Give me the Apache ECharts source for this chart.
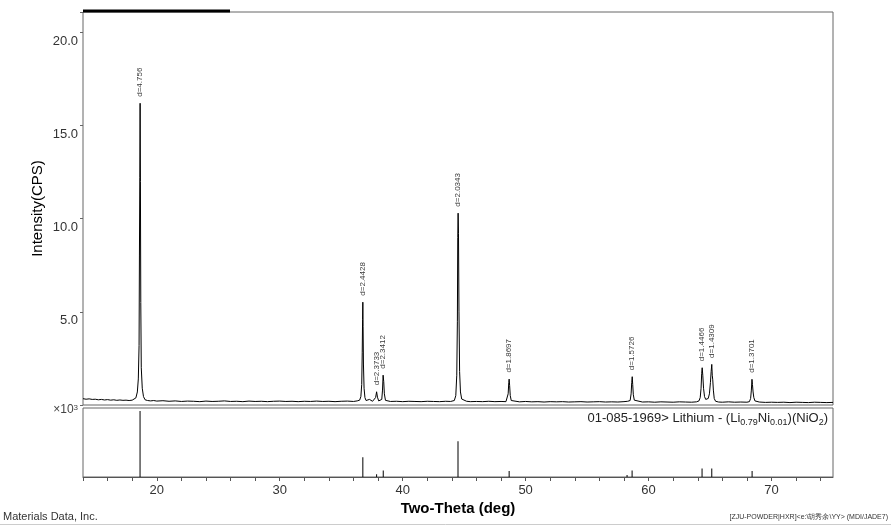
<!DOCTYPE html>
<html>
<head>
<meta charset="utf-8">
<script src="https://cdn.jsdelivr.net/npm/echarts@6/dist/echarts.min.js"></script>
<style>
html,body{margin:0;padding:0;background:#fff;}
#chart{width:891px;height:526px;}
</style>
</head>
<body>
<div id="chart"></div>
<script>
// Measured scan: [2θ (deg), intensity (×10³ CPS)]
var scanPoints = [
[14.00,0.34],[14.25,0.31],[14.5,0.33],[14.75,0.30],[15.0,0.31],[15.25,0.28],[15.5,0.30],[15.75,0.27],
[16.0,0.29],[16.25,0.26],[16.5,0.28],[16.75,0.25],[17.0,0.27],[17.25,0.25],[17.5,0.26],[17.75,0.24],
[18.0,0.26],[18.15,0.28],[18.3,0.38],[18.42,0.7],[18.5,1.4],[18.56,3.2],[18.59,8.0],[18.62,12.2],
[18.645,16.2],[18.67,12.0],[18.70,5.5],[18.74,2.0],[18.82,0.9],[18.92,0.45],[19.05,0.28],[19.25,0.24],
[19.5,0.22],[19.75,0.24],[20,0.21],[20.5,0.23],[21,0.2],[21.5,0.22],[22,0.19],[22.5,0.21],[23,0.2],
[23.5,0.18],[24,0.21],[24.5,0.19],[25,0.2],[25.5,0.22],[26,0.19],[26.5,0.2],[27,0.18],[27.5,0.21],
[28,0.19],[28.5,0.2],[29,0.18],[29.5,0.2],[30,0.21],[30.5,0.19],[31,0.2],[31.5,0.18],[32,0.2],
[32.5,0.19],[33,0.21],[33.5,0.19],[34,0.2],[34.5,0.18],[35,0.2],[35.5,0.21],[36,0.19],[36.3,0.22],
[36.5,0.26],[36.6,0.45],[36.67,1.1],[36.71,2.8],[36.74,4.6],[36.76,5.52],[36.78,4.2],[36.81,2.2],
[36.86,0.9],[36.93,0.4],[37.02,0.24],[37.15,0.2],[37.3,0.3],[37.4,0.22],[37.55,0.2],[37.7,0.22],
[37.8,0.4],[37.88,0.71],[37.95,0.42],[38.05,0.22],[38.2,0.2],[38.3,0.3],[38.36,0.8],[38.41,1.6],
[38.46,1.25],[38.51,0.6],[38.6,0.25],[38.75,0.2],[39,0.19],[39.5,0.2],[40,0.18],[40.5,0.2],[41,0.19],
[41.5,0.18],[42,0.2],[42.5,0.19],[43,0.18],[43.5,0.2],[43.9,0.19],[44.2,0.24],[44.32,0.5],[44.4,1.6],
[44.45,4.5],[44.48,9.0],[44.51,10.3],[44.54,9.2],[44.58,5.0],[44.63,1.8],[44.7,0.7],[44.8,0.32],
[44.95,0.22],[45.2,0.2],[45.5,0.18],[46,0.19],[46.5,0.18],[47,0.2],[47.5,0.18],[48,0.19],[48.4,0.18],
[48.52,0.26],[48.58,0.6],[48.63,1.2],[48.66,1.39],[48.7,1.05],[48.75,0.5],[48.83,0.24],[48.95,0.18],
[49.5,0.17],[50,0.19],[50.5,0.17],[51,0.18],[51.5,0.16],[52,0.18],[52.5,0.17],[53,0.18],[53.5,0.16],
[54,0.17],[54.5,0.18],[55,0.16],[55.5,0.17],[56,0.18],[56.5,0.16],[57,0.17],[57.5,0.16],[58,0.18],
[58.3,0.2],[58.5,0.24],[58.58,0.6],[58.63,1.2],[58.67,1.52],[58.71,1.1],[58.76,0.55],[58.84,0.26],
[58.95,0.18],[59.5,0.16],[60,0.17],[60.5,0.15],[61,0.17],[61.5,0.16],[62,0.15],[62.5,0.17],[63,0.16],
[63.5,0.15],[63.9,0.17],[64.1,0.22],[64.2,0.4],[64.27,0.9],[64.32,1.7],[64.36,2.0],[64.41,1.6],
[64.47,0.9],[64.55,0.45],[64.65,0.3],[64.75,0.28],[64.85,0.35],[64.95,0.6],[65.03,1.2],[65.09,1.8],
[65.14,2.18],[65.18,1.6],[65.22,1.35],[65.27,0.8],[65.34,0.35],[65.45,0.2],[65.7,0.16],[66,0.15],
[66.5,0.17],[67,0.15],[67.5,0.16],[68,0.15],[68.2,0.18],[68.3,0.35],[68.36,0.8],[68.41,1.38],
[68.45,1.1],[68.5,0.7],[68.56,0.4],[68.65,0.22],[68.8,0.15],[69,0.16],[69.5,0.14],[70,0.15],
[70.5,0.14],[71,0.15],[71.5,0.13],[72,0.15],[72.5,0.14],[73,0.13],[73.5,0.15],[74,0.14],[74.5,0.13],[75,0.14]
];

// Labelled peaks
var peakTheta = [18.645, 36.76, 37.88, 38.41, 44.51, 48.66, 58.67, 64.36, 65.14, 68.41];
var peakIntensity = [16.2, 5.52, 0.71, 1.6, 10.3, 1.39, 1.52, 2.0, 2.18, 1.38];
var peakLabels = ['d=4.756','d=2.4428','d=2.3733','d=2.3412','d=2.0343','d=1.8697','d=1.5726','d=1.4466','d=1.4309','d=1.3701'];

// Reference pattern 01-085-1969 (relative intensity, %)
var refTheta = [18.64, 36.76, 37.88, 38.42, 44.50, 48.66, 58.25, 58.66, 64.35, 65.14, 68.42];
var refIntensity = [100, 30, 4, 10, 54, 9, 3, 10, 13, 13, 9];

var yTicks = [5, 10, 15, 20];
var xLabelTicks = [20, 30, 40, 50, 60, 70];

var FONT = '"Liberation Sans", Arial, sans-serif';
var chart = echarts.init(document.getElementById('chart'), null, {renderer: 'canvas'});

var peakData = peakTheta.map(function (t, i) {
  return {value: [t, peakIntensity[i]], name: peakLabels[i]};
});
var refData = refTheta.map(function (t, i) { return [t, refIntensity[i]]; });

var option = {
  animation: false,
  backgroundColor: '#fff',
  grid: [
    {left: 83, right: 58, top: 12, height: 393, show: true, borderColor: '#666', borderWidth: 1, backgroundColor: 'transparent'},
    {left: 83, right: 58, top: 408, height: 69, show: true, borderColor: '#666', borderWidth: 1, backgroundColor: 'transparent'}
  ],
  xAxis: [
    {type: 'value', gridIndex: 0, min: 14, max: 75, interval: 2,
     axisLine: {show: false}, axisTick: {show: false}, axisLabel: {show: false}, splitLine: {show: false}},
    {type: 'value', gridIndex: 1, min: 14, max: 75, interval: 2,
     axisLine: {show: true, lineStyle: {color: '#555', width: 1}},
     axisTick: {show: true, length: 4, lineStyle: {color: '#555'}},
     axisLabel: {show: true, margin: 7, color: '#333', fontSize: 13, fontFamily: FONT,
       formatter: function (v) { return xLabelTicks.indexOf(v) >= 0 ? String(v) : ''; },
       showMaxLabel: false},
     splitLine: {show: false},
     name: 'Two-Theta (deg)', nameLocation: 'middle', nameGap: 24, nameMoveOverlap: false,
     nameTextStyle: {color: '#000', fontSize: 15, fontWeight: 'bold', fontFamily: FONT}}
  ],
  yAxis: [
    {type: 'value', gridIndex: 0, min: 0, max: 21.1, interval: 5,
     axisLine: {show: false},
     axisTick: {show: true, length: 3, lineStyle: {color: '#666'}},
     axisLabel: {show: true, margin: 5, color: '#333', fontSize: 13, fontFamily: FONT,
       verticalAlign: 'top', padding: [2, 0, 0, 0],
       formatter: function (v) { return yTicks.indexOf(v) >= 0 ? v.toFixed(1) : ''; }},
     splitLine: {show: false},
     name: 'Intensity(CPS)', nameLocation: 'middle', nameGap: 38, nameMoveOverlap: false,
     nameTextStyle: {color: '#000', fontSize: 15, fontFamily: FONT}},
    {type: 'value', gridIndex: 1, min: 0, max: 104.5,
     axisLine: {show: false}, axisTick: {show: false}, axisLabel: {show: false}, splitLine: {show: false}}
  ],
  series: [
    {type: 'line', xAxisIndex: 0, yAxisIndex: 0, data: scanPoints, showSymbol: false, symbol: 'none',
     lineStyle: {color: '#000', width: 1}, silent: true},
    {type: 'scatter', xAxisIndex: 0, yAxisIndex: 0, data: peakData, symbolSize: 1,
     itemStyle: {color: 'rgba(0,0,0,0)'},
     label: {show: true, position: 'top', distance: 6, rotate: 90, align: 'left', verticalAlign: 'middle',
       fontSize: 8, color: '#000', fontFamily: FONT,
       formatter: function (p) { return p.name; }}},
    {type: 'bar', xAxisIndex: 1, yAxisIndex: 1, data: refData, barWidth: 1,
     itemStyle: {color: '#000'}, silent: true}
  ],
  graphic: [
    {type: 'rect', shape: {x: 83, y: 9.5, width: 147, height: 3}, style: {fill: '#000'}},
    {type: 'text', right: 891 - 78, top: 404,
     style: {text: '×10{sup|3}', fill: '#444', font: '12px ' + FONT, align: 'right',
       rich: {sup: {fontSize: 8, verticalAlign: 'top', fill: '#444', fontFamily: FONT}}}},
    {type: 'text', right: 63, top: 409,
     style: {text: '01-085-1969> Lithium - (Li{sub|0.79}Ni{sub|0.01})(NiO{sub|2})',
       fill: '#222', font: '13px ' + FONT, lineHeight: 18,
       rich: {sub: {fontSize: 9, verticalAlign: 'bottom', lineHeight: 18, fill: '#222', fontFamily: FONT}}}},
    {type: 'text', left: 3, top: 511,
     style: {text: 'Materials Data, Inc.', fill: '#333', font: '11px ' + FONT}},
    {type: 'text', right: 3, top: 514,
     style: {text: '[ZJU-POWDER|HXR]<e:\\胡秀余\\YY> (MDI/JADE7)', fill: '#333', font: '7px ' + FONT}},
    {type: 'line', shape: {x1: 0, y1: 524.5, x2: 891, y2: 524.5}, style: {stroke: '#ccc', lineWidth: 1}}
  ]
};
chart.setOption(option);
</script>
</body>
</html>
